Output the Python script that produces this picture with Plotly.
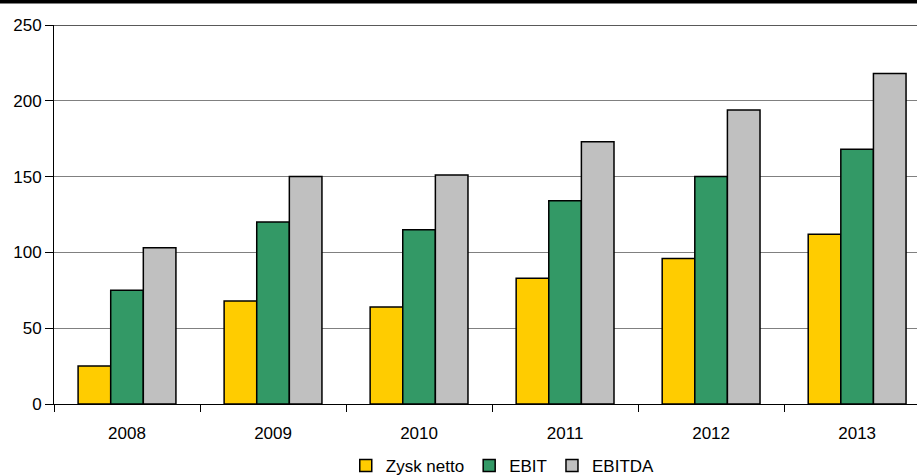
import plotly.graph_objects as go

years = ["2008", "2009", "2010", "2011", "2012", "2013"]
zysk_netto = [25, 68, 64, 83, 96, 112]
ebit = [75, 120, 115, 134, 150, 168]
ebitda = [103, 150, 151, 173, 194, 218]
y_ticks = [0, 50, 100, 150, 200, 250]

series = [
    ("Zysk netto", zysk_netto, "#FFCC00"),
    ("EBIT", ebit, "#339966"),
    ("EBITDA", ebitda, "#C0C0C0"),
]

fig = go.Figure()
for name, vals, col in series:
    fig.add_trace(go.Bar(
        x=years, y=vals, name=name,
        marker=dict(color=col, line=dict(color="#000000", width=1.5)),
    ))

fig.update_layout(
    width=917, height=476,
    margin=dict(l=54, r=0, t=25, b=72, autoexpand=False),
    paper_bgcolor="white", plot_bgcolor="white",
    barmode="group", bargap=0.33, bargroupgap=0,
    font=dict(family="Liberation Sans", size=17, color="#000000"),
    showlegend=True,
    legend=dict(orientation="h", x=0.52, xanchor="center", yref="container", y=0.021, yanchor="middle",
                font=dict(size=17), itemwidth=30, traceorder="normal", tracegroupgap=0),
    xaxis=dict(
        range=[-0.5, 5.41], showgrid=False, showline=True, linecolor="#000000", linewidth=1,
        ticks="outside", tickson="boundaries", ticklen=7, tickcolor="#000000",
        tickfont=dict(size=17), ticklabelstandoff=14,
    ),
    yaxis=dict(
        range=[0, 250], tickvals=y_ticks, showgrid=True, gridcolor="#808080", gridwidth=1,
        showline=True, linecolor="#000000", linewidth=1, zeroline=False,
        ticks="outside", ticklen=8, tickcolor="#000000", tickfont=dict(size=17),
    ),
    shapes=[
        dict(type="rect", xref="paper", yref="paper", x0=-0.1, x1=1.05,
             y0=1 + 21.5 / 379, y1=1 + 30 / 379, fillcolor="#000000", line=dict(width=0), layer="above"),
        dict(type="line", xref="paper", yref="y", x0=0, x1=1, y0=250, y1=250,
             line=dict(color="#222222", width=1.5)),
    ],
)

fig.write_html("out.html")
